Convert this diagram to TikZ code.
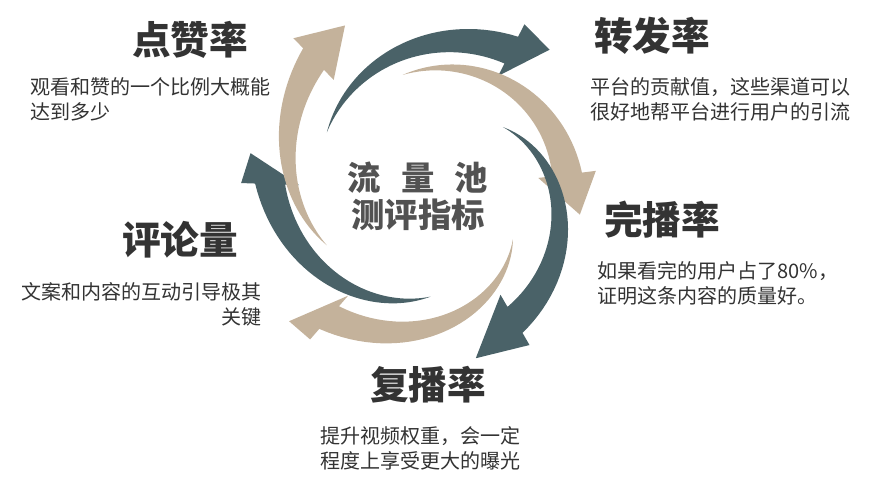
\documentclass[tikz,border=0pt]{standalone}
\usepackage{fontspec}
\setmainfont{Noto Sans CJK SC}
\usetikzlibrary{positioning}
\definecolor{slate}{HTML}{4A6268}
\definecolor{sand}{HTML}{C4B29B}
\definecolor{ink}{HTML}{333333}
\tikzset{
	title/.style={font=\bfseries\fontsize{22}{26}\selectfont, text=ink},
	desc/.style={font=\fontsize{11.4}{14.4}\selectfont, text=ink, align=left, inner sep=0pt},
	hub/.style={font=\bfseries\fontsize{19}{22}\selectfont, text=ink!85}
}
% color, tail angle, base angle, r0, r1, half width, tip angle, tip radius
\newcommand{\swirl}[8]{%
	\fill[#1] plot[domain=#2:#3,samples=40] (\x:{#4+(#5-#4)*(\x-#2)/(#3-#2)+#6*(\x-#2)/(#3-#2)})
	-- (#3:{#5+#6+14}) -- (#7:#8) -- (#3:{#5-#6-14})
	-- plot[domain=#3:#2,samples=40] (\x:{#4+(#5-#4)*(\x-#2)/(#3-#2)-#6*(\x-#2)/(#3-#2)}) -- cycle;}
\begin{document}
\begin{tikzpicture}[x=0.02cm, y=-0.02cm]
	\useasboundingbox (0,0) rectangle (885,482);
	% swirl arrows
	\begin{scope}[shift={(440,190)}]
		\swirl{slate}{207}{297}{127}{157}{15}{308}{178}
		\swirl{sand}{252}{353}{121}{128}{15}{370}{142}
		\swirl{slate}{315}{420}{89}{150}{15}{438}{172}
		\swirl{sand}{34}{131}{88}{169}{15}{139}{200}
		\swirl{slate}{95}{182}{107}{170}{15}{191}{193}
		\swirl{sand}{154}{226}{126}{182}{15}{240}{190}
	\end{scope}
	% centre
	\node[hub] (pool) at (418,178) {流\hspace{0.6em}量\hspace{0.6em}池};
	\node[hub, below=-1.5mm of pool] (metric) {测评指标};
	% titles
	\node[title] (like) at (190,40) {点赞率};
	\node[title] (share) at (652,36) {转发率};
	\node[title] (finish) at (662,220) {完播率};
	\node[title] (replay) at (428,385) {复播率};
	\node[title] (comment) at (180,240) {评论量};
	% descriptions
	\node[desc, anchor=north west] (likeD) at (30,77) {观看和赞的一个比例大概能\\达到多少};
	\node[desc, anchor=north west] (shareD) at (590,77) {平台的贡献值，这些渠道可以\\很好地帮平台进行用户的引流};
	\node[desc, anchor=north west] (finishD) at (597,261) {如果看完的用户占了80\%，\\证明这条内容的质量好。};
	\node[desc, anchor=north west] (replayD) at (320,426) {提升视频权重，会一定\\程度上享受更大的曝光};
	\node[desc, anchor=north east, align=right] (commentD) at (262,282) {文案和内容的互动引导极其\\关键};
\end{tikzpicture}
\end{document}
